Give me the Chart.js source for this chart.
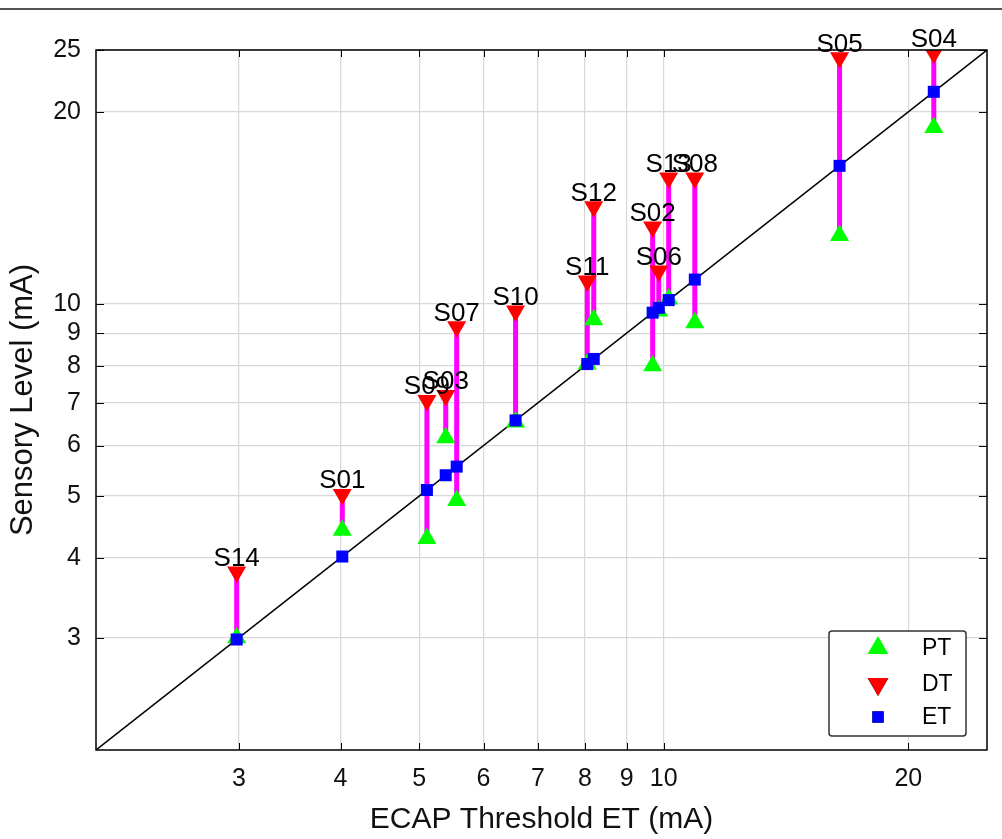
<!DOCTYPE html>
<html>
<head>
<meta charset="utf-8">
<script src="https://cdn.jsdelivr.net/npm/chart.js@4.4.1/dist/chart.umd.min.js"></script>
<style>
  html, body { margin: 0; padding: 0; background: #fff; }
  #wrap { position: relative; width: 1002px; height: 839px; }
  #topline { position: absolute; left: 0; top: 8px; width: 1002px; height: 2px; background: #555; }
  canvas { position: absolute; left: 0; top: 0; }
</style>
</head>
<body>
<div id="wrap">
  <canvas id="ecapChart" width="1002" height="839"></canvas>
  <div id="topline"></div>
</div>
<script>
// subjects, ECAP threshold (ET), perception (PT) and discomfort (DT) thresholds in mA
var subjects = ['S14', 'S01', 'S09', 'S03', 'S07', 'S10', 'S11', 'S12', 'S02', 'S06', 'S13', 'S08', 'S05', 'S04'];
var etValues = [2.98, 4.02, 5.11, 5.39, 5.56, 6.57, 8.05, 8.20, 9.69, 9.86, 10.14, 10.92, 16.46, 21.5];
var ptValues = [3.00, 4.42, 4.29, 6.17, 4.92, 6.53, 8.05, 9.45, 8.00, 9.75, 10.18, 9.34, 12.8, 18.9];
var dtValues = [3.80, 5.03, 7.06, 7.19, 9.21, 9.75, 10.86, 14.2, 13.2, 11.26, 15.76, 15.76, 24.3, 24.7];

var xTicks = [3, 4, 5, 6, 7, 8, 9, 10, 20];
var yTicks = [3, 4, 5, 6, 7, 8, 9, 10, 20, 25];
var axisMin = 2;
var axisMax = 25;

var FONT = "'Liberation Sans', Arial, sans-serif";

// magenta bars from PT to DT, one small dataset per subject
var rangeSets = subjects.map(function (s, i) {
    return {
        label: 'range ' + s,
        type: 'line',
        data: [{ x: etValues[i], y: ptValues[i] }, { x: etValues[i], y: dtValues[i] }],
        borderColor: '#ff00ff',
        borderWidth: 5,
        pointRadius: 0,
        fill: false,
        order: 5,
        inLegend: false
    };
});

var datasets = rangeSets.concat([
    {
        label: 'identity',
        type: 'line',
        data: [{ x: axisMin, y: axisMin }, { x: axisMax, y: axisMax }],
        borderColor: '#000',
        borderWidth: 1.5,
        pointRadius: 0,
        fill: false,
        order: 4,
        inLegend: false
    },
    {
        label: 'PT',
        data: etValues.map(function (v, i) { return { x: v, y: ptValues[i] }; }),
        pointStyle: 'triangle',
        rotation: 0,
        pointRadius: 11,
        backgroundColor: '#00ff00',
        borderColor: '#00ff00',
        borderWidth: 0,
        order: 3,
        inLegend: true
    },
    {
        label: 'DT',
        data: etValues.map(function (v, i) { return { x: v, y: dtValues[i] }; }),
        pointStyle: 'triangle',
        rotation: 180,
        pointRadius: 11,
        backgroundColor: '#ff0000',
        borderColor: '#ff0000',
        borderWidth: 0,
        order: 2,
        inLegend: true
    },
    {
        label: 'ET',
        data: etValues.map(function (v) { return { x: v, y: v }; }),
        pointStyle: 'rect',
        pointRadius: 8.5,
        backgroundColor: '#0000ff',
        borderColor: '#0000ff',
        borderWidth: 0,
        order: 1,
        inLegend: true
    }
]);

// frame, inner tick marks, subject labels and legend box
var decorPlugin = {
    id: 'decor',
    afterDatasetsDraw: function (chart) {
        var ctx = chart.ctx;
        var a = chart.chartArea;
        var xs = chart.scales.x, ys = chart.scales.y;
        ctx.save();

        // subject labels above DT markers
        var dtIndex = chart.data.datasets.findIndex(function (d) { return d.label === 'DT'; });
        var meta = chart.getDatasetMeta(dtIndex);
        ctx.fillStyle = '#000';
        ctx.font = '26px ' + FONT;
        ctx.textAlign = 'center';
        ctx.textBaseline = 'alphabetic';
        meta.data.forEach(function (pt, i) {
            ctx.fillText(subjects[i], pt.x, pt.y - 6);
        });

        // inner tick marks
        ctx.strokeStyle = '#000';
        ctx.lineWidth = 1;
        ctx.beginPath();
        xTicks.forEach(function (v) {
            var px = Math.round(xs.getPixelForValue(v)) + 0.5;
            ctx.moveTo(px, a.bottom); ctx.lineTo(px, a.bottom - 7);
            ctx.moveTo(px, a.top); ctx.lineTo(px, a.top + 7);
        });
        yTicks.forEach(function (v) {
            var py = Math.round(ys.getPixelForValue(v)) + 0.5;
            ctx.moveTo(a.left, py); ctx.lineTo(a.left + 8, py);
            ctx.moveTo(a.right, py); ctx.lineTo(a.right - 8, py);
        });
        ctx.stroke();

        // frame
        ctx.lineWidth = 1.5;
        ctx.strokeRect(a.left, a.top, a.right - a.left, a.bottom - a.top);

        // legend
        var items = chart.data.datasets.filter(function (d) { return d.inLegend; });
        var bx = 829, by = 631, bw = 137, bh = 105;
        ctx.fillStyle = '#fff';
        ctx.fillRect(bx, by, bw, bh);
        ctx.strokeStyle = '#333';
        ctx.lineWidth = 1.5;
        ctx.beginPath();
        ctx.roundRect(bx, by, bw, bh, 3);
        ctx.stroke();
        var rowY = [648, 684, 717];
        ctx.font = '23px ' + FONT;
        ctx.textAlign = 'left';
        ctx.textBaseline = 'middle';
        items.forEach(function (d, i) {
            Chart.helpers.drawPoint(ctx, {
                pointStyle: d.pointStyle,
                rotation: d.rotation || 0,
                radius: d.pointStyle === 'rect' ? 8 : 12,
                borderWidth: 0
            }, 878, rowY[i]);
            ctx.fillStyle = d.backgroundColor;
            ctx.fill();
            ctx.fillStyle = '#000';
            ctx.fillText(d.label, 922, rowY[i] + 1);
        });

        ctx.restore();
    }
};

var ctx = document.getElementById('ecapChart').getContext('2d');
var ecapChart = new Chart(ctx, {
    type: 'scatter',
    data: { datasets: datasets },
    options: {
        responsive: false,
        animation: false,
        devicePixelRatio: 1,
        layout: { padding: { top: 50, right: 15, left: 0, bottom: 0 } },
        plugins: {
            legend: { display: false },
            tooltip: { enabled: false }
        },
        scales: {
            x: {
                type: 'logarithmic',
                min: axisMin,
                max: axisMax,
                afterBuildTicks: function (scale) {
                    scale.ticks = xTicks.map(function (v) { return { value: v }; });
                },
                afterFit: function (scale) { scale.height = 89; },
                ticks: {
                    autoSkip: false,
                    maxRotation: 0,
                    padding: 14,
                    color: '#111',
                    font: { family: FONT, size: 25 },
                    callback: function (v) { return String(v); }
                },
                grid: { color: '#d8d8d8', lineWidth: 1.2, drawTicks: false },
                border: { display: false },
                title: {
                    display: true,
                    text: 'ECAP Threshold ET (mA)',
                    color: '#111',
                    font: { family: FONT, size: 30 },
                    padding: { top: 1, bottom: 1 }
                }
            },
            y: {
                type: 'logarithmic',
                min: axisMin,
                max: axisMax,
                afterBuildTicks: function (scale) {
                    scale.ticks = yTicks.map(function (v) { return { value: v }; });
                },
                afterFit: function (scale) { scale.width = 96; },
                ticks: {
                    autoSkip: false,
                    padding: 15,
                    color: '#111',
                    font: { family: FONT, size: 25 },
                    callback: function (v) { return String(v); }
                },
                grid: { color: '#d8d8d8', lineWidth: 1.2, drawTicks: false },
                border: { display: false },
                title: {
                    display: true,
                    text: 'Sensory Level (mA)',
                    color: '#111',
                    font: { family: FONT, size: 31 },
                    padding: { top: 5, bottom: 5 }
                }
            }
        }
    },
    plugins: [decorPlugin]
});
</script>
</body>
</html>
